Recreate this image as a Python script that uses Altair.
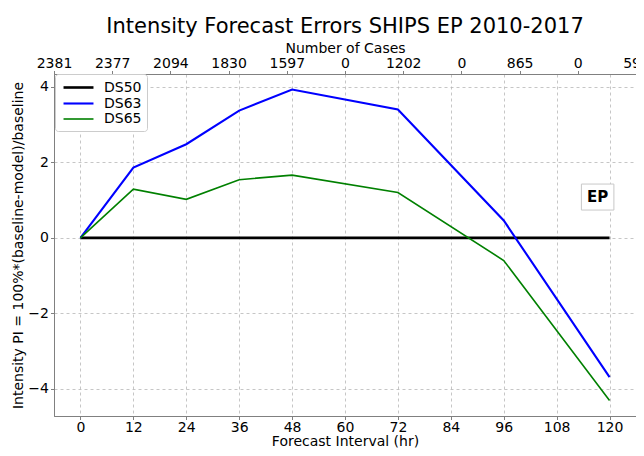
import altair as alt
import pandas as pd

# ---- data ----
hours = [0, 12, 24, 36, 48, 72, 96, 120]
ds50 = [0, 0, 0, 0, 0, 0, 0, 0]
ds63 = [0, 1.86, 2.48, 3.37, 3.93, 3.40, 0.46, -3.69]
ds65 = [0, 1.29, 1.02, 1.54, 1.66, 1.20, -0.60, -4.31]
series_names = ["DS50", "DS63", "DS65"]
series_colors = ["#000000", "#0000ff", "#008000"]
series_widths = [2.6, 1.6, 1.6]
x_ticks = [0, 12, 24, 36, 48, 60, 72, 84, 96, 108, 120]
y_ticks = [-4, -2, 0, 2, 4]
case_labels = ["2381", "2377", "2094", "1830", "1597", "0", "1202", "0", "865", "0", "597"]
basin_label = "EP"
basin_pos = (117.3, 1.08)

FONT = "DejaVu Sans"
XMIN, XMAX = -6, 126
YMIN, YMAX = -4.72, 4.34

rows = []
for name, vals in zip(series_names, [ds50, ds63, ds65]):
    for h, v in zip(hours, vals):
        rows.append({"hour": h, "value": v, "series": name})
df = pd.DataFrame(rows)

xscale = alt.Scale(domain=[XMIN, XMAX], nice=False, zero=False)
yscale = alt.Scale(domain=[YMIN, YMAX], nice=False, zero=False)
y_axis = alt.Axis(values=y_ticks, title="Intensity PI = 100%*(baseline-model)/baseline",
                  grid=True, labelPadding=2, titlePadding=2)

lines = alt.Chart(df).mark_line().encode(
    x=alt.X("hour:Q", scale=xscale,
            axis=alt.Axis(orient="bottom", values=x_ticks, title="Forecast Interval (hr)", grid=True,
                          labelPadding=1, titleBaseline="alphabetic", titleY=29)),
    y=alt.Y("value:Q", scale=yscale, axis=y_axis),
    color=alt.Color("series:N", scale=alt.Scale(domain=series_names, range=series_colors),
                    legend=alt.Legend(title=None)),
    strokeWidth=alt.StrokeWidth("series:N", scale=alt.Scale(domain=series_names, range=series_widths),
                                legend=alt.Legend(title=None)),
    order=alt.Order("hour:Q"),
)

box_df = pd.DataFrame({"hour": [basin_pos[0]], "value": [basin_pos[1]], "t": [basin_label]})
box = alt.Chart(box_df).mark_point(
    shape="M-1.25,-1L1.25,-1L1.25,1L-1.25,1Z", size=676, filled=True,
    fill="white", stroke="#c8c8c8", strokeWidth=1, opacity=1
).encode(x=alt.X("hour:Q", axis=None), y=alt.Y("value:Q", scale=yscale, axis=y_axis))
txt = alt.Chart(box_df).mark_text(
    font=FONT, fontSize=15, fontWeight="bold", color="black", baseline="middle", align="center"
).encode(x=alt.X("hour:Q", axis=None), y=alt.Y("value:Q", scale=yscale, axis=y_axis), text="t:N")

# top "Number of Cases" axis: evenly spaced over the full plot width
n_top = len(case_labels)
step = (XMAX - XMIN) / (n_top - 1)
top_pos = [XMIN + i * step for i in range(n_top)]
top_df = pd.DataFrame({"hour": top_pos, "lab": case_labels})
label_expr = ("[" + ",".join("'" + c + "'" for c in case_labels) + "]"
              + f"[round((datum.value - ({XMIN})) / {step})]")
top = alt.Chart(top_df).mark_point(opacity=0).encode(
    x=alt.X("hour:Q",
            axis=alt.Axis(orient="top", values=top_pos, labelExpr=label_expr, labelFlush=False,
                          labelOverlap=False, title="Number of Cases", grid=False,
                          labelPadding=0, titlePadding=1)),
    y=alt.value(0),
)

chart = alt.layer(lines, box, txt, top).resolve_axis(x="independent").properties(
    width=582, height=342,
    autosize=alt.AutoSizeParams(type="none"),
    padding={"left": 46, "top": 66, "right": 0, "bottom": 32},
    background="white",
    title=alt.TitleParams("Intensity Forecast Errors SHIPS EP 2010-2017", font=FONT, fontSize=21,
                          fontWeight="normal", anchor="middle", color="black", offset=5),
).configure_axis(
    labelFont=FONT, titleFont=FONT, labelFontSize=14, titleFontSize=14,
    labelColor="black", titleColor="black", titleFontWeight="normal",
    domainColor="#808080", tickColor="#808080", tickSize=3.5,
    gridColor="#b8b8b8", gridDash=[3, 3], gridWidth=0.8,
).configure_view(stroke="#808080").configure_legend(
    orient="none", legendX=1, legendY=0, padding=5, strokeColor="#cccccc", fillColor="white",
    cornerRadius=3, labelFont=FONT, labelFontSize=14, labelColor="black",
    symbolType="M-2.14,0H2.14", symbolSize=196, symbolOffset=10, rowPadding=0, labelOffset=17,
)

chart.save("out.html", embed_options={"renderer": "svg", "actions": False})
